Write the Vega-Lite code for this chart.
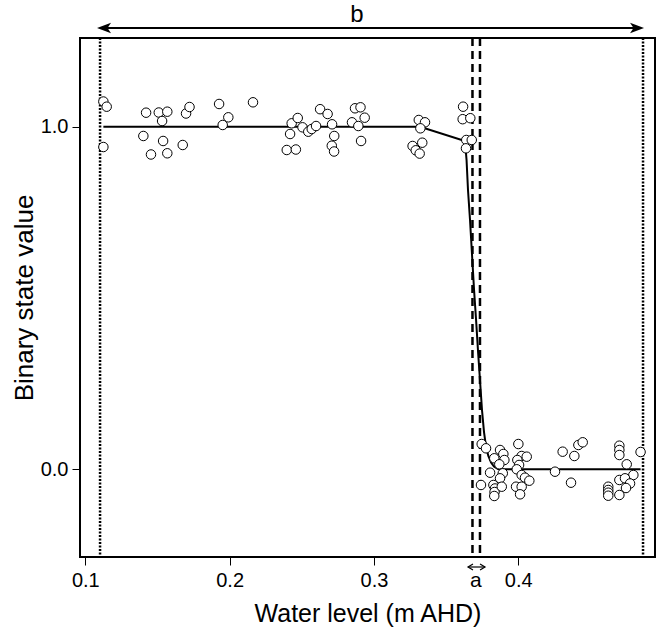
{
  "$schema": "https://vega.github.io/schema/vega-lite/v6.json",
  "width": 575,
  "height": 519,
  "autosize": {"type": "none"},
  "padding": {"left": 80, "top": 38, "right": 2, "bottom": 74},
  "background": "white",
  "config": {
    "font": "Liberation Sans",
    "view": {"stroke": "black", "strokeWidth": 2},
    "axis": {"domain": false, "grid": false, "tickColor": "black", "tickWidth": 1, "tickSize": 8, "labelColor": "black", "titleColor": "black", "labelFont": "Liberation Sans", "titleFont": "Liberation Sans", "titleFontWeight": "normal", "labelFontSize": 20, "titleFontSize": 25}
  },
  "datasets": {
    "pts": [
      {"x":0.1125,"y":1.0735},{"x":0.1148,"y":1.0584},{"x":0.1125,"y":0.9407},{"x":0.1421,"y":1.0409},{"x":0.1509,"y":1.0414},{"x":0.1568,"y":1.0438},{"x":0.1532,"y":1.0166},{"x":0.1402,"y":0.9729},{"x":0.1539,"y":0.9583},{"x":0.1675,"y":0.9466},{"x":0.1455,"y":0.9189},{"x":0.1568,"y":0.9224},{"x":0.1698,"y":1.0385},{"x":0.1722,"y":1.0575},{"x":0.1927,"y":1.0663},{"x":0.1991,"y":1.0274},{"x":0.1952,"y":1.005},{"x":0.2162,"y":1.0712},{"x":0.243,"y":1.0099},{"x":0.2419,"y":0.9787},{"x":0.2472,"y":1.0254},{"x":0.2505,"y":0.9982},{"x":0.2545,"y":0.9854},{"x":0.2569,"y":0.9933},{"x":0.2599,"y":1.002},{"x":0.2627,"y":1.0511},{"x":0.2679,"y":1.0371},{"x":0.271,"y":1.007},{"x":0.2725,"y":0.9729},{"x":0.2708,"y":0.9445},{"x":0.2724,"y":0.9276},{"x":0.2396,"y":0.932},{"x":0.2459,"y":0.9334},{"x":0.2869,"y":1.0537},{"x":0.2907,"y":1.0566},{"x":0.2936,"y":1.0263},{"x":0.2848,"y":1.0128},{"x":0.2892,"y":1.002},{"x":0.2911,"y":0.9583},{"x":0.3311,"y":1.0196},{"x":0.3354,"y":1.0128},{"x":0.3322,"y":0.9953},{"x":0.3335,"y":0.9533},{"x":0.3268,"y":0.9437},{"x":0.329,"y":0.9311},{"x":0.3317,"y":0.9215},{"x":0.3618,"y":1.0584},{"x":0.3615,"y":1.0219},{"x":0.3668,"y":1.0248},{"x":0.364,"y":0.9612},{"x":0.3678,"y":0.9612},{"x":0.3638,"y":0.9369},
      {"x":0.3747,"y":0.0738},{"x":0.3777,"y":0.0613},{"x":0.3805,"y":-0.0099},{"x":0.3742,"y":-0.0458},{"x":0.3834,"y":0.0321},{"x":0.3874,"y":0.0563},{"x":0.3897,"y":0.0447},{"x":0.3904,"y":0.0271},{"x":0.3869,"y":0.0146},{"x":0.3893,"y":-0.0117},{"x":0.3874,"y":-0.0263},{"x":0.3828,"y":-0.0458},{"x":0.3839,"y":-0.056},{"x":0.3836,"y":-0.0663},{"x":0.3834,"y":-0.0779},{"x":0.3886,"y":-0.0508},{"x":0.4001,"y":0.0738},{"x":0.4024,"y":0.0388},{"x":0.3994,"y":0.0271},{"x":0.4059,"y":0.0368},{"x":0.4006,"y":0.0126},{"x":0.399,"y":0.0},{"x":0.4024,"y":-0.0166},{"x":0.4047,"y":-0.0245},{"x":0.4077,"y":-0.0333},{"x":0.3985,"y":-0.0508},{"x":0.4024,"y":-0.0508},{"x":0.4013,"y":-0.073},{"x":0.4255,"y":-0.007},{"x":0.4308,"y":0.0514},{"x":0.4366,"y":-0.0391},{"x":0.4389,"y":0.0388},{"x":0.4417,"y":0.0709},{"x":0.4447,"y":0.0788},{"x":0.4701,"y":0.0689},{"x":0.4701,"y":0.0563},{"x":0.4701,"y":0.0417},{"x":0.4752,"y":0.0146},{"x":0.4798,"y":-0.0166},{"x":0.4848,"y":0.0505},{"x":0.4624,"y":-0.0508},{"x":0.4624,"y":-0.0604},{"x":0.4624,"y":-0.0683},{"x":0.4624,"y":-0.0771},{"x":0.4701,"y":-0.0312},{"x":0.474,"y":-0.0263},{"x":0.4775,"y":-0.0414},{"x":0.4747,"y":-0.0546},{"x":0.4701,"y":-0.075}
    ],
    "curve": [
      {"x":0.1125,"y":1},{"x":0.332,"y":1},{"x":0.3631,"y":0.9583},{"x":0.3642,"y":0.9028},{"x":0.3652,"y":0.8152},{"x":0.3666,"y":0.7277},{"x":0.368,"y":0.6255},{"x":0.3694,"y":0.5233},{"x":0.3708,"y":0.4357},{"x":0.3721,"y":0.3482},{"x":0.3735,"y":0.2606},{"x":0.3749,"y":0.173},{"x":0.3763,"y":0.1088},{"x":0.3777,"y":0.0651},{"x":0.3793,"y":0.0388},{"x":0.3812,"y":0.0198},{"x":0.3832,"y":0.0082},{"x":0.386,"y":0.0009},{"x":0.3909,"y":0},{"x":0.4848,"y":0}
    ]
  },
  "layer": [
    {
      "data": {"values": [{"x": 0.1102}, {"x": 0.4865}]},
      "mark": {"type": "rule", "color": "black", "strokeWidth": 2.5, "strokeDash": [2, 1.5]},
      "encoding": {"x": {"field": "x", "type": "quantitative", "scale": {"domain": [0.0963, 0.4948], "nice": false, "zero": false}, "axis": {"values": [0.1, 0.2, 0.3, 0.4], "format": ".1f", "title": "Water level (m AHD)", "labelFontSize": 20, "labelPadding": 5, "titlePadding": 11}}}
    },
    {
      "data": {"values": [{"x": 0.3683}, {"x": 0.3735}]},
      "mark": {"type": "rule", "color": "black", "strokeWidth": 2.5, "strokeDash": [8, 5]},
      "encoding": {"x": {"field": "x", "type": "quantitative"}}
    },
    {
      "data": {"name": "curve"},
      "mark": {"type": "line", "color": "black", "strokeWidth": 2},
      "encoding": {
        "x": {"field": "x", "type": "quantitative"},
        "y": {"field": "y", "type": "quantitative", "scale": {"domain": [-0.256, 1.2589], "nice": false, "zero": false}, "axis": {"values": [0, 1], "format": ".1f", "title": "Binary state value", "labelFontSize": 20, "titleFontSize": 26, "labelPadding": 4, "titlePadding": 3}}
      }
    },
    {
      "data": {"name": "pts"},
      "mark": {"type": "point", "filled": true, "fill": "white", "stroke": "black", "strokeWidth": 1, "size": 90, "opacity": 1},
      "encoding": {
        "x": {"field": "x", "type": "quantitative"},
        "y": {"field": "y", "type": "quantitative"}
      }
    },
    {
      "data": {"values": [{"x": 0.111, "x2": 0.484, "y": 1.288}]},
      "mark": {"type": "rule", "color": "black", "strokeWidth": 2},
      "encoding": {"x": {"field": "x", "type": "quantitative"}, "x2": {"field": "x2"}, "y": {"field": "y", "type": "quantitative"}}
    },
    {
      "data": {"values": [{"x": 0.1081, "y": 1.288}]},
      "mark": {"type": "point", "shape": "M0,0L2,-0.75L1.5,0L2,0.75Z", "size": 196, "filled": true, "color": "black", "opacity": 1},
      "encoding": {"x": {"field": "x", "type": "quantitative"}, "y": {"field": "y", "type": "quantitative"}}
    },
    {
      "data": {"values": [{"x": 0.4872, "y": 1.288}]},
      "mark": {"type": "point", "shape": "M0,0L-2,-0.75L-1.5,0L-2,0.75Z", "size": 196, "filled": true, "color": "black", "opacity": 1},
      "encoding": {"x": {"field": "x", "type": "quantitative"}, "y": {"field": "y", "type": "quantitative"}}
    },
    {
      "data": {"values": [{"x": 0.2883, "y": 1.326, "t": "b"}]},
      "mark": {"type": "text", "fontSize": 24, "color": "black", "baseline": "middle", "align": "center"},
      "encoding": {"x": {"field": "x", "type": "quantitative"}, "y": {"field": "y", "type": "quantitative"}, "text": {"field": "t"}}
    },
    {
      "data": {"values": [{"x": 0.3653, "x2": 0.3769, "y": -0.2852}]},
      "mark": {"type": "rule", "color": "black", "strokeWidth": 1.2},
      "encoding": {"x": {"field": "x", "type": "quantitative"}, "x2": {"field": "x2"}, "y": {"field": "y", "type": "quantitative"}}
    },
    {
      "data": {"values": [{"x": 0.3652, "y": -0.2852}]},
      "mark": {"type": "point", "shape": "M2,-1.2L0,0L2,1.2", "size": 25, "filled": false, "stroke": "black", "strokeWidth": 1.2, "opacity": 1},
      "encoding": {"x": {"field": "x", "type": "quantitative"}, "y": {"field": "y", "type": "quantitative"}}
    },
    {
      "data": {"values": [{"x": 0.377, "y": -0.2852}]},
      "mark": {"type": "point", "shape": "M-2,-1.2L0,0L-2,1.2", "size": 25, "filled": false, "stroke": "black", "strokeWidth": 1.2, "opacity": 1},
      "encoding": {"x": {"field": "x", "type": "quantitative"}, "y": {"field": "y", "type": "quantitative"}}
    },
    {
      "data": {"values": [{"x": 0.3707, "y": -0.325, "t": "a"}]},
      "mark": {"type": "text", "fontSize": 21, "color": "black", "baseline": "middle", "align": "center"},
      "encoding": {"x": {"field": "x", "type": "quantitative"}, "y": {"field": "y", "type": "quantitative"}, "text": {"field": "t"}}
    }
  ]
}
